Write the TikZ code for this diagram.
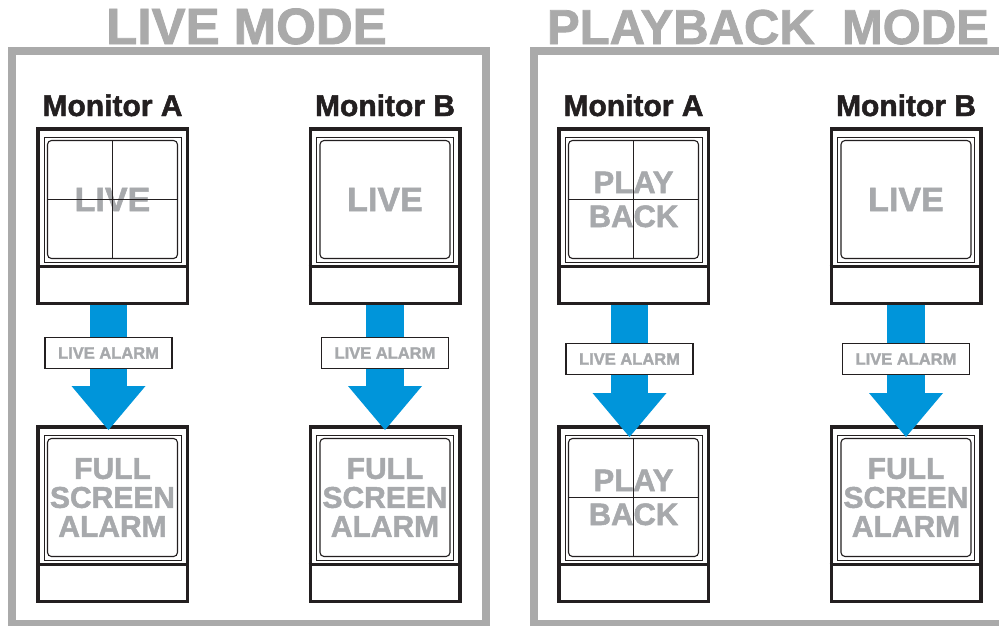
\documentclass[tikz,border=0pt]{standalone}
\usepackage{fontspec}
\setmainfont{Liberation Sans}[BoldFeatures={FakeBold=1.6}]
\usetikzlibrary{arrows.meta}

\definecolor{modegray}{RGB}{170,170,170}
\definecolor{txtgray}{RGB}{167,169,172}
\definecolor{monblack}{RGB}{35,31,32}
\definecolor{alarmblue}{RGB}{0,149,218}

\tikzset{
    modeframe/.style={draw=modegray, line width=8pt},
    modetitle/.style={text=modegray, font=\bfseries\fontsize{51}{51}\selectfont, inner sep=0pt},
    monlabel/.style={text=monblack, font=\bfseries\fontsize{30}{30}\selectfont, inner sep=0pt},
    monframe/.style={draw=monblack, line width=3.5pt, fill=white, minimum width=149.5pt, minimum height=174.5pt, inner sep=0pt},
    monline/.style={draw=monblack, line width=3.5pt},
    scrout/.style={draw=monblack, line width=0.9pt, minimum width=137pt, minimum height=125pt, inner sep=0pt, outer sep=0pt},
    scrin/.style={draw=monblack, line width=1.1pt, rounded corners=4pt, minimum width=130pt, minimum height=118pt, inner sep=0pt, outer sep=0pt},
    monthin/.style={draw=monblack, line width=1pt},
    livetxt/.style={text=txtgray, font=\bfseries\fontsize{34}{34}\selectfont, inner sep=0pt},
    playtxt/.style={text=txtgray, font=\bfseries\fontsize{31}{34}\selectfont, align=center, inner sep=0pt},
    fulltxt/.style={text=txtgray, font=\bfseries\fontsize{30}{29}\selectfont, align=center, inner sep=0pt},
    alarmarrow/.style={draw=alarmblue, line width=37.5pt, -{Triangle[width=74pt,length=44pt,line width=0pt]}},
    alarmbox/.style={draw=monblack, line width=1.2pt, fill=white, text=txtgray, font=\bfseries\fontsize{16.5}{18}\selectfont, minimum width=127pt, minimum height=31pt, inner sep=0pt}
}

% name, centre, text style, screen text
\newcommand{\monitor}[4]{%
    \node[monframe] (#1) at (#2) {};
    \draw[monline] ([yshift=38.5pt]#1.south west) -- ([yshift=38.5pt]#1.south east);
    \node[scrout] (#1-out) at ([yshift=16.5pt]#1.center) {};
    \node[scrin] (#1-in) at (#1-out) {};
    \node[#3] (#1-txt) at (#1-in) {#4};
}
\newcommand{\quadlines}[1]{%
    \draw[monthin] (#1-in.north) -- (#1-in.south);
    \draw[monthin] (#1-in.west) -- (#1-in.east);
}

\begin{document}
\begin{tikzpicture}[x=1pt, y=-1pt]
    \useasboundingbox (0,0) rectangle (999,625);
    \fill[white] (0,0) rectangle (999,625);

    % live mode
    \draw[modeframe] (12,50.5) rectangle (485.5,623.5);
    \node[modetitle, anchor=base] (live-title) at (246.5,44) {LIVE MODE};

    \monitor{la1}{112.5,216}{livetxt}{LIVE}
    \quadlines{la1}
    \monitor{la2}{112.5,514}{fulltxt}{FULL\\SCREEN\\ALARM}
    \monitor{lb1}{385,216}{livetxt}{LIVE}
    \monitor{lb2}{385,514}{fulltxt}{FULL\\SCREEN\\ALARM}
    \node[monlabel, anchor=base] (la-name) at ([yshift=11pt]la1.north) {Monitor A};
    \node[monlabel, anchor=base] (lb-name) at ([yshift=11pt]lb1.north) {Monitor B};

    \draw[alarmarrow, shorten >=-5pt] ([xshift=-4pt]la1.south) -- node[alarmbox, pos=0.4] (la-alarm) {LIVE ALARM} ([xshift=-4pt]la2.north);
    \draw[alarmarrow, shorten >=-5pt] (lb1.south) -- node[alarmbox, pos=0.4] (lb-alarm) {LIVE ALARM} (lb2.north);

    % playback mode
    \draw[modeframe] (534,50.5) rectangle (1010,623.5);
    \node[modetitle, anchor=base, font=\bfseries\fontsize{49}{49}\selectfont] (play-title) at (768,44) {PLAYBACK~~MODE};

    \monitor{pa1}{633.5,216}{playtxt}{PLAY\\BACK}
    \quadlines{pa1}
    \monitor{pa2}{633.5,514}{playtxt}{PLAY\\BACK}
    \quadlines{pa2}
    \monitor{pb1}{906,216}{livetxt}{LIVE}
    \monitor{pb2}{906,514}{fulltxt}{FULL\\SCREEN\\ALARM}
    \node[monlabel, anchor=base] (pa-name) at ([yshift=11pt]pa1.north) {Monitor A};
    \node[monlabel, anchor=base] (pb-name) at ([yshift=11pt]pb1.north) {Monitor B};

    \draw[alarmarrow, shorten >=-12pt] ([xshift=-4pt]pa1.south) -- node[alarmbox, pos=0.45] (pa-alarm) {LIVE ALARM} ([xshift=-4pt]pa2.north);
    \draw[alarmarrow, shorten >=-12pt] (pb1.south) -- node[alarmbox, pos=0.45] (pb-alarm) {LIVE ALARM} (pb2.north);
\end{tikzpicture}
\end{document}
